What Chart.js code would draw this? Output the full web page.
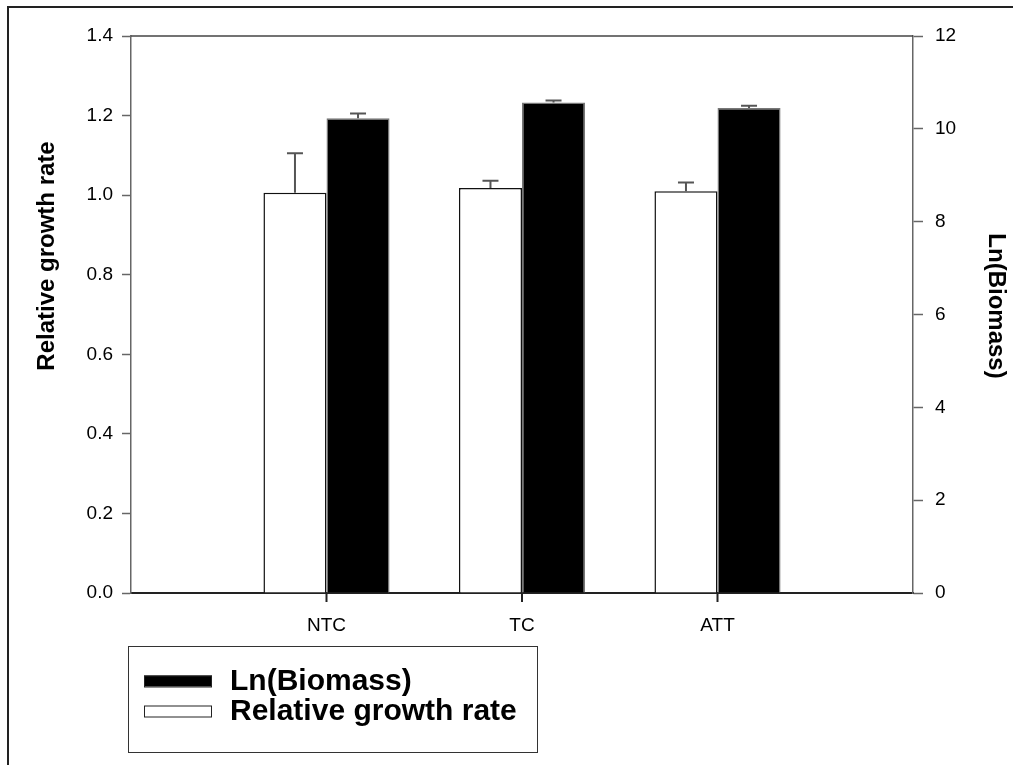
<!DOCTYPE html>
<html>
<head>
<meta charset="utf-8">
<script src="https://cdn.jsdelivr.net/npm/chart.js@4.4.1/dist/chart.umd.min.js"></script>
<style>
  html, body { margin: 0; padding: 0; background: #ffffff; }
  #wrap { position: relative; width: 1013px; height: 765px; }
</style>
</head>
<body>
<div id="wrap"><canvas id="c" width="1013" height="765"></canvas></div>
<script>
// ---- data ----
const categories = ['NTC', 'TC', 'ATT'];
const rgrValues = [1.006, 1.018, 1.010];       // Relative growth rate (left axis)
const rgrErrors = [0.099, 0.018, 0.022];
const lnBiomassValues = [10.23, 10.57, 10.45];  // Ln(Biomass) (right axis)
const lnBiomassErrors = [0.10, 0.04, 0.05];
const leftTicks = [0, 0.2, 0.4, 0.6, 0.8, 1.0, 1.2, 1.4];
const rightTicks = [0, 2, 4, 6, 8, 10, 12];
const leftTitle = 'Relative growth rate';
const rightTitle = 'Ln(Biomass)';

const FONT = "'Liberation Sans', Arial, Helvetica, sans-serif";
Chart.defaults.font.family = FONT;
Chart.defaults.color = '#000';

// pad one empty slot on each side of the categories (as in the reference)
const labels = [''].concat(categories, ['']);
const pad = arr => [null].concat(arr, [null]);

const errorBars = {
  id: 'errorBars',
  afterDatasetsDraw(chart) {
    const ctx = chart.ctx;
    ctx.save();
    chart.data.datasets.forEach((ds, di) => {
      const meta = chart.getDatasetMeta(di);
      const ys = chart.scales[ds.yAxisID];
      meta.data.forEach((bar, i) => {
        const v = ds.data[i];
        const e = ds.errors[i];
        if (v == null || e == null) return;
        const x = bar.x;
        const y0 = ys.getPixelForValue(v);
        const y1 = ys.getPixelForValue(v + e);
        ctx.strokeStyle = '#555';
        ctx.lineWidth = 2;
        ctx.beginPath();
        ctx.moveTo(x, y0);
        ctx.lineTo(x, y1);
        ctx.moveTo(x - 8, y1);
        ctx.lineTo(x + 8, y1);
        ctx.stroke();
      });
    });
    ctx.restore();
  }
};

const frame = {
  id: 'frame',
  beforeDraw(chart) {
    const ctx = chart.ctx;
    ctx.save();
    ctx.fillStyle = '#fff';
    ctx.fillRect(0, 0, chart.width, chart.height);
    // outer picture frame (top and left visible)
    ctx.strokeStyle = '#222';
    ctx.lineWidth = 2;
    ctx.beginPath();
    ctx.moveTo(8, chart.height);
    ctx.lineTo(8, 7);
    ctx.lineTo(chart.width, 7);
    ctx.stroke();
    ctx.restore();
  },
  afterDraw(chart) {
    const ctx = chart.ctx;
    const a = chart.chartArea;
    ctx.save();
    // top frame line of the plot
    ctx.strokeStyle = '#444';
    ctx.lineWidth = 1.5;
    ctx.beginPath();
    ctx.moveTo(a.left, a.top);
    ctx.lineTo(a.right, a.top);
    ctx.stroke();

    // category tick marks below the x axis
    const xs = chart.scales.x;
    ctx.strokeStyle = '#222';
    ctx.lineWidth = 2;
    for (let i = 1; i < labels.length - 1; i++) {
      const px = xs.getPixelForTick(i);
      ctx.beginPath();
      ctx.moveTo(px, a.bottom);
      ctx.lineTo(px, a.bottom + 9);
      ctx.stroke();
    }

    // axis titles
    ctx.fillStyle = '#000';
    ctx.font = "bold 24px " + FONT;
    ctx.textAlign = 'center';
    ctx.textBaseline = 'middle';
    ctx.save();
    ctx.translate(47, 256);
    ctx.rotate(-Math.PI / 2);
    ctx.fillText(leftTitle, 0, 0);
    ctx.restore();
    ctx.save();
    ctx.translate(996, 306);
    ctx.rotate(Math.PI / 2);
    ctx.fillText(rightTitle, 0, 0);
    ctx.restore();

    // legend box
    const lx = 128, ly = 646, lw = 409, lh = 106;
    ctx.strokeStyle = '#333';
    ctx.lineWidth = 1;
    ctx.strokeRect(lx + 0.5, ly + 0.5, lw, lh);
    // legend entries (Ln(Biomass) first, as in the reference)
    const order = [1, 0];
    ctx.font = "bold 30px " + FONT;
    ctx.textAlign = 'left';
    ctx.textBaseline = 'middle';
    order.forEach((di, k) => {
      const ds = chart.data.datasets[di];
      const cy = 681 + k * 30;
      ctx.fillStyle = ds.backgroundColor;
      ctx.fillRect(144, cy - 5.5, 68, 11);
      ctx.strokeStyle = '#222';
      ctx.lineWidth = 1;
      ctx.strokeRect(144.5, cy - 5, 67, 11);
      ctx.fillStyle = '#000';
      ctx.fillText(ds.label, 230, cy + 1);
    });
    ctx.restore();
  }
};

new Chart(document.getElementById('c'), {
  type: 'bar',
  data: {
    labels: labels,
    datasets: [
      {
        label: 'Relative growth rate',
        data: pad(rgrValues),
        errors: pad(rgrErrors),
        yAxisID: 'y',
        backgroundColor: '#ffffff',
        borderColor: '#111',
        borderWidth: 1.5,
        borderSkipped: 'bottom',
        categoryPercentage: 0.645,
        barPercentage: 1.0
      },
      {
        label: 'Ln(Biomass)',
        data: pad(lnBiomassValues),
        errors: pad(lnBiomassErrors),
        yAxisID: 'y1',
        backgroundColor: '#000000',
        borderColor: '#777',
        borderWidth: 1.5,
        borderSkipped: 'bottom',
        categoryPercentage: 0.645,
        barPercentage: 1.0
      }
    ]
  },
  options: {
    responsive: false,
    animation: false,
    devicePixelRatio: 1,
    layout: { padding: { top: 36, left: 0, right: 0, bottom: 0 } },
    plugins: {
      legend: { display: false },
      tooltip: { enabled: false }
    },
    scales: {
      x: {
        type: 'category',
        offset: false,
        grid: { display: false, offset: false },
        border: { display: true, color: '#222', width: 2 },
        ticks: { font: { size: 19 }, color: '#000', padding: 13, maxRotation: 0, autoSkip: false },
        afterFit: s => { s.height = 172; }
      },
      y: {
        position: 'left',
        min: 0, max: 1.4,
        afterBuildTicks: s => { s.ticks = leftTicks.map(v => ({ value: v })); },
        ticks: { font: { size: 19 }, color: '#000', padding: 9, callback: v => Number(v).toFixed(1) },
        grid: { display: true, drawOnChartArea: false, drawTicks: true, tickLength: 9, tickColor: '#666', tickWidth: 1.5 },
        border: { display: true, color: '#666', width: 1.5 },
        title: { display: false },
        afterFit: s => { s.width = 131; }
      },
      y1: {
        position: 'right',
        min: 0, max: 12,
        afterBuildTicks: s => { s.ticks = rightTicks.map(v => ({ value: v })); },
        ticks: { font: { size: 19 }, color: '#000', padding: 12, callback: v => String(v) },
        grid: { display: true, drawOnChartArea: false, drawTicks: true, tickLength: 10, tickColor: '#666', tickWidth: 1.5 },
        border: { display: true, color: '#666', width: 1.5 },
        title: { display: false },
        afterFit: s => { s.width = 100; }
      }
    }
  },
  plugins: [frame, errorBars]
});
</script>
</body>
</html>
